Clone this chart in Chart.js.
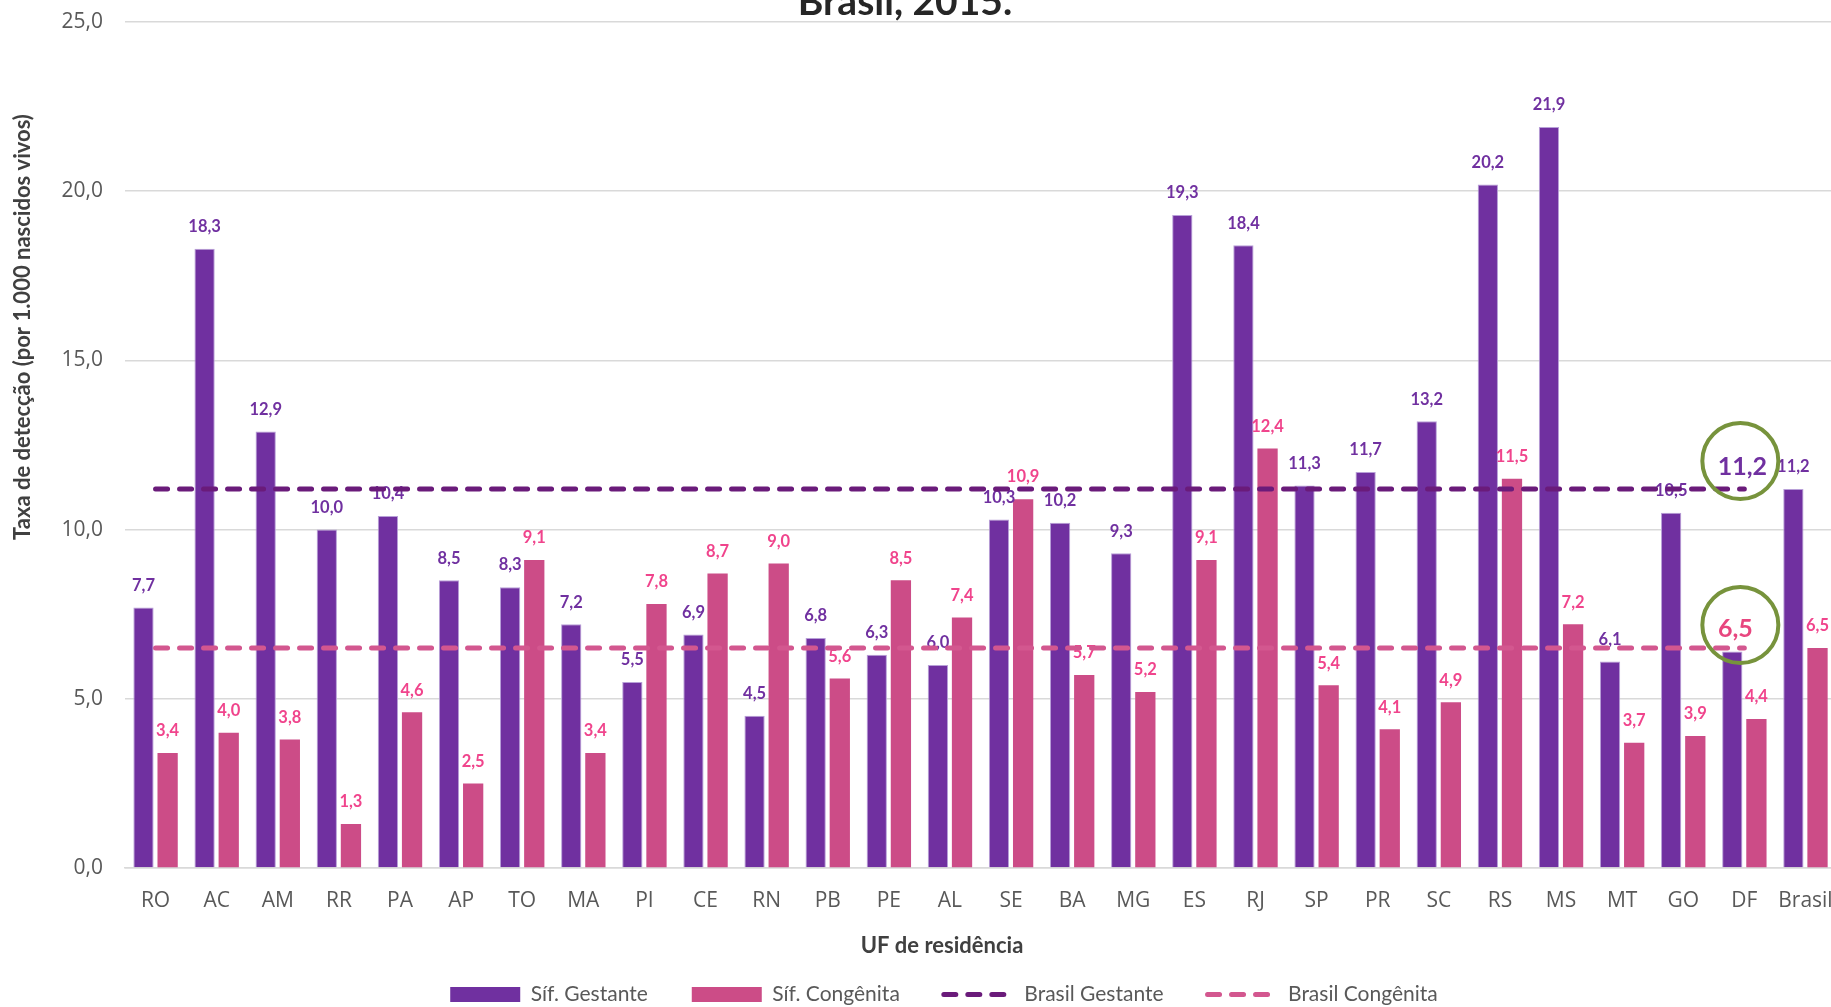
<!DOCTYPE html>
<html lang="pt-BR">
<head>
<meta charset="utf-8">
<title>Taxa de detecção de sífilis - Brasil, 2015</title>
<script src="https://cdn.jsdelivr.net/npm/chart.js@4.4.1/dist/chart.umd.min.js"></script>
<style>
  html, body { margin: 0; padding: 0; background: #fff; overflow: hidden; }
  #wrap { position: relative; width: 1836px; height: 1015px; }
</style>
</head>
<body>
<div id="wrap"><canvas id="chart"></canvas></div>
<script>
// Dados (taxa por 1.000 nascidos vivos)
const ufs = ['RO', 'AC', 'AM', 'RR', 'PA', 'AP', 'TO', 'MA', 'PI', 'CE', 'RN', 'PB', 'PE', 'AL',
  'SE', 'BA', 'MG', 'ES', 'RJ', 'SP', 'PR', 'SC', 'RS', 'MS', 'MT', 'GO', 'DF', 'Brasil'];

const sifGestante = [7.7, 18.3, 12.9, 10.0, 10.4, 8.5, 8.3, 7.2, 5.5, 6.9, 4.5, 6.8, 6.3, 6.0,
  10.3, 10.2, 9.3, 19.3, 18.4, 11.3, 11.7, 13.2, 20.2, 21.9, 6.1, 10.5, 6.4, 11.2];

const sifCongenita = [3.4, 4.0, 3.8, 1.3, 4.6, 2.5, 9.1, 3.4, 7.8, 8.7, 9.0, 5.6, 8.5, 7.4,
  10.9, 5.7, 5.2, 9.1, 12.4, 5.4, 4.1, 4.9, 11.5, 7.2, 3.7, 3.9, 4.4, 6.5];

// linhas de referência (valor Brasil), sem ponto na categoria "Brasil"
const brasilGestante = [11.2, 11.2, 11.2, 11.2, 11.2, 11.2, 11.2, 11.2, 11.2, 11.2, 11.2, 11.2, 11.2, 11.2,
  11.2, 11.2, 11.2, 11.2, 11.2, 11.2, 11.2, 11.2, 11.2, 11.2, 11.2, 11.2, 11.2, null];
const brasilCongenita = [6.5, 6.5, 6.5, 6.5, 6.5, 6.5, 6.5, 6.5, 6.5, 6.5, 6.5, 6.5, 6.5, 6.5,
  6.5, 6.5, 6.5, 6.5, 6.5, 6.5, 6.5, 6.5, 6.5, 6.5, 6.5, 6.5, 6.5, null];

const yMin = 0, yMax = 25, yStep = 5;

const fmt = v => v.toFixed(1).replace('.', ',');

const purple = '#7030A0';
const pink = '#CC4C87';
const labelPink = '#F0448C';
const dashPurple = '#6A1B7A';
const dashPink = '#D3578F';
const circleGreen = '#77933C';
const clear = 'rgba(0,0,0,0)';

// rótulos de valor, títulos e destaques
const extras = {
  id: 'extras',
  afterDatasetDraw(chart, args) {
    // barras de gestante são as últimas barras desenhadas; as linhas vêm por cima
    if (args.index !== 0) return;
    const ctx = chart.ctx;
    ctx.save();
    ctx.font = 'bold 16.5px Lato';
    ctx.textAlign = 'center';
    ctx.textBaseline = 'middle';
    [0, 1].forEach(di => {
      const meta = chart.getDatasetMeta(di);
      const values = chart.data.datasets[di].data;
      ctx.fillStyle = di === 0 ? purple : labelPink;
      meta.data.forEach((bar, i) => {
        if (di === 0 && ufs[i] === 'DF') return;
        ctx.fillText(fmt(values[i]), bar.x, bar.y - 22);
      });
    });
    ctx.restore();
  },
  afterDraw(chart) {
    const ctx = chart.ctx;
    const xs = chart.scales.x, ys = chart.scales.y;
    ctx.save();

    // título (cortado no topo)
    ctx.fillStyle = '#262626';
    ctx.font = 'bold 39px Lato';
    ctx.textAlign = 'center';
    ctx.textBaseline = 'alphabetic';
    ctx.fillText('Brasil, 2015.', 905, 15);

    // título eixo x
    ctx.fillStyle = '#404040';
    ctx.font = 'bold 22px Lato';
    ctx.textBaseline = 'middle';
    ctx.fillText('UF de residência', 942, 946);

    // título eixo y
    ctx.save();
    ctx.translate(23, 327);
    ctx.rotate(-Math.PI / 2);
    ctx.font = 'bold 22px Lato';
    ctx.fillText('Taxa de detecção (por 1.000 nascidos vivos)', 0, 0);
    ctx.restore();

    // círculos de destaque nos valores Brasil
    const last = ufs.length - 1;
    const cx = xs.getPixelForValue(ufs.indexOf('DF')) - 4;
    const marks = [
      { v: sifGestante[last], dy: -28, color: purple, tdx: 2, tdy: 6 },
      { v: sifCongenita[last], dy: -23, color: '#E8467F', tdx: -5, tdy: 4 }
    ];
    marks.forEach(m => {
      const cy = ys.getPixelForValue(m.v) + m.dy;
      ctx.beginPath();
      ctx.arc(cx, cy, 38, 0, Math.PI * 2);
      ctx.lineWidth = 4;
      ctx.strokeStyle = circleGreen;
      ctx.stroke();
      ctx.fillStyle = m.color;
      ctx.font = 'bold 25px Lato';
      ctx.textAlign = 'center';
      ctx.textBaseline = 'middle';
      ctx.fillText(fmt(m.v), cx + m.tdx, cy + m.tdy);
    });
    ctx.restore();
  }
};

const ctx = document.getElementById('chart').getContext('2d');
new Chart(ctx, {
  type: 'bar',
  data: {
    labels: ufs,
    datasets: [
      {
        label: 'Síf. Gestante',
        data: sifGestante,
        backgroundColor: purple,
        borderColor: '#B8A0D8',
        borderWidth: 1,
        categoryPercentage: 0.79,
        barPercentage: 0.84,
        order: 1
      },
      {
        label: 'Síf. Congênita',
        data: sifCongenita,
        backgroundColor: pink,
        borderWidth: 0,
        categoryPercentage: 0.79,
        barPercentage: 0.84,
        order: 1
      },
      {
        type: 'line',
        label: 'Brasil Gestante',
        data: brasilGestante,
        borderColor: dashPurple,
        borderWidth: 5,
        borderDash: [12, 12],
        borderCapStyle: 'round',
        pointRadius: 0,
        fill: false,
        order: 0
      },
      {
        type: 'line',
        label: 'Brasil Congênita',
        data: brasilCongenita,
        borderColor: dashPink,
        borderWidth: 5,
        borderDash: [12, 12],
        borderCapStyle: 'round',
        pointRadius: 0,
        fill: false,
        order: 0
      }
    ]
  },
  options: {
    responsive: true,
    maintainAspectRatio: false,
    animation: false,
    layout: { padding: { left: 52, top: 22, right: 0, bottom: 0 } },
    scales: {
      x: {
        // marcas invisíveis fazem o espaço entre eixo e rótulos
        grid: { display: false, drawTicks: true, tickLength: 20 },
        border: { color: '#D9D9D9', width: 1.5 },
        ticks: { color: '#595959', font: { family: 'Open Sans', size: 21 }, padding: 0 },
        afterFit(scale) { scale.height = 72; }
      },
      y: {
        min: yMin,
        max: yMax,
        ticks: {
          stepSize: yStep,
          padding: 0,
          color: '#595959',
          font: { family: 'Open Sans', size: 21 },
          callback: v => fmt(v)
        },
        grid: { color: '#D9D9D9', lineWidth: 1.5, drawTicks: true, tickLength: 22, tickColor: clear },
        border: { display: false },
        afterFit(scale) { scale.width = 73; }
      }
    },
    plugins: {
      legend: {
        position: 'bottom',
        labels: {
          usePointStyle: true,
          pointStyleWidth: 70,
          boxHeight: 15,
          padding: 44,
          color: '#595959',
          font: { family: 'Lato', size: 21 },
          generateLabels: chart => chart.data.datasets.map((ds, i) => {
            const isLine = ds.type === 'line';
            return {
              text: ds.label,
              datasetIndex: i,
              fillStyle: isLine ? clear : ds.backgroundColor,
              strokeStyle: isLine ? ds.borderColor : ds.backgroundColor,
              lineWidth: isLine ? 5 : 0,
              lineDash: isLine ? [12, 12] : [],
              lineCap: isLine ? 'round' : 'butt',
              pointStyle: isLine ? 'line' : 'rect',
              fontColor: '#595959',
              hidden: false
            };
          })
        }
      },
      tooltip: { enabled: false }
    }
  },
  plugins: [extras]
});
</script>
</body>
</html>
